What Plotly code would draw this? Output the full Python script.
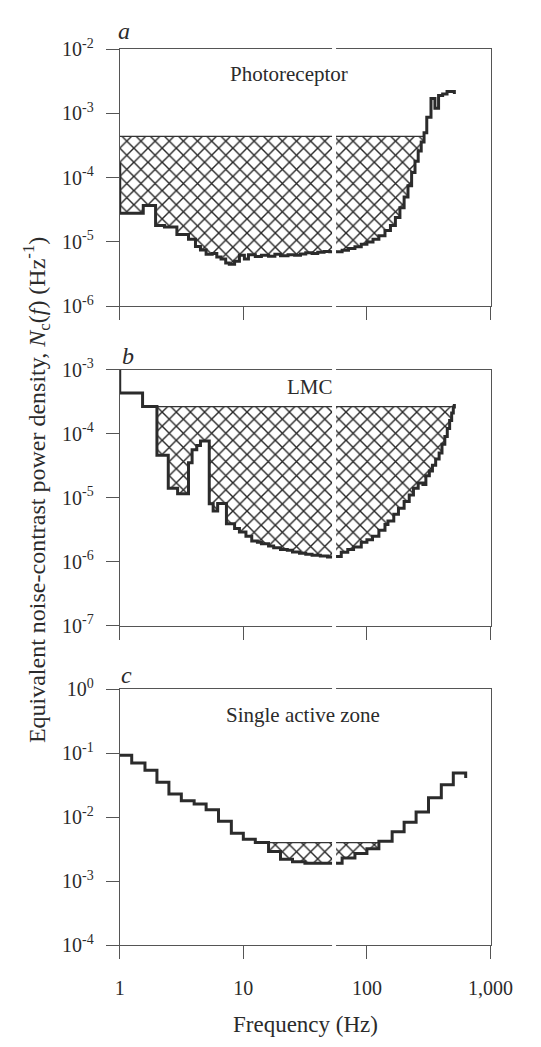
import plotly.graph_objects as go

W, H = 541, 1047

# ---------------- data ----------------
# panel a: photoreceptor, step curve (step starts) and values
A_FREQ = [1, 1, 1.55, 1.95, 2.3, 2.9, 3.6, 4.1, 4.5, 5.0, 5.6, 6.1, 6.6, 7.2, 7.7,
          8.5, 9.3, 10.2, 11, 12.5, 14, 16, 18, 20, 23, 26, 29, 32, 36, 40, 45,
          50, 56, 63, 71, 80, 90, 100, 112, 125, 140, 155, 170, 185, 200, 215,
          230, 245, 260, 275, 290, 305, 330, 355, 380, 410, 445, 480, 510]
A_VAL = [1.7e-4, 2.8e-5, 3.7e-5, 1.8e-5, 1.7e-5, 1.3e-5, 1.1e-5, 8.5e-6, 7.5e-6,
         6.4e-6, 6.6e-6, 5.8e-6, 5.4e-6, 4.7e-6, 4.5e-6, 5.0e-6, 6.2e-6, 5.4e-6,
         6.3e-6, 5.9e-6, 6.2e-6, 6.0e-6, 6.4e-6, 6.1e-6, 6.3e-6, 6.2e-6, 6.5e-6,
         6.8e-6, 6.6e-6, 6.9e-6, 7.1e-6, 7.0e-6, 7.0e-6, 7.4e-6, 7.9e-6, 8.4e-6,
         9.2e-6, 1.0e-5, 1.1e-5, 1.25e-5, 1.5e-5, 1.8e-5, 2.4e-5, 3.4e-5, 5.0e-5,
         7.5e-5, 1.2e-4, 1.8e-4, 2.6e-4, 3.6e-4, 5.0e-4, 8.7e-4, 1.7e-3, 1.2e-3,
         1.9e-3, 2.0e-3, 2.2e-3, 2.2e-3, 2.0e-3]
A_LEVEL = 4.4e-4
A_FILL = (1, 290)

# panel b: LMC
B_FREQ = [1, 1, 1.53, 2.0, 2.47, 2.94, 3.6, 3.85, 4.2, 4.5, 5.3, 5.7, 6.2, 7.3,
          8.5, 9.3, 10.5, 11.7, 13, 14, 16, 17.6, 20, 22.7, 25, 28.5, 32, 36,
          42, 48, 54, 62, 70, 78, 90, 100, 111, 125, 140, 148, 165, 180, 200,
          220, 238, 260, 284, 300, 320, 339, 360, 384, 405, 427, 447, 467, 485,
          500, 510]
B_VAL = [1.0e-3, 4.3e-4, 2.65e-4, 4.6e-5, 1.4e-5, 1.15e-5, 3.5e-5, 5.6e-5, 6.5e-5,
         7.7e-5, 8.0e-6, 6.2e-6, 8.1e-6, 3.9e-6, 3.3e-6, 2.9e-6, 2.5e-6, 2.1e-6,
         2.0e-6, 1.9e-6, 1.75e-6, 1.65e-6, 1.55e-6, 1.5e-6, 1.42e-6, 1.35e-6,
         1.3e-6, 1.26e-6, 1.22e-6, 1.18e-6, 1.2e-6, 1.4e-6, 1.55e-6, 1.7e-6,
         2.0e-6, 2.2e-6, 2.5e-6, 3.1e-6, 3.8e-6, 4.3e-6, 5.5e-6, 6.8e-6, 8.7e-6,
         1.1e-5, 1.4e-5, 1.7e-5, 1.6e-5, 2.2e-5, 2.6e-5, 3.2e-5, 4.0e-5, 5.0e-5,
         6.8e-5, 9.0e-5, 1.2e-4, 1.6e-4, 2.1e-4, 2.6e-4, 2.9e-4]
B_LEVEL = 2.65e-4
B_FILL = (1.53, 510)

# panel c: single active zone (1/3-octave bins)
C_FREQ = [1, 1.25, 1.6, 2, 2.5, 3.15, 4, 5, 6.3, 8, 10, 12.5, 16, 20, 25, 31.5,
          40, 50, 63, 80, 100, 125, 160, 200, 250, 315, 400, 500, 630]
C_VAL = [0.093, 0.070, 0.054, 0.035, 0.023, 0.018, 0.016, 0.013, 0.0086, 0.0056,
         0.0045, 0.0040, 0.0029, 0.0022, 0.0020, 0.0019, 0.0019, 0.0019, 0.0023,
         0.0027, 0.0032, 0.0042, 0.0059, 0.0083, 0.012, 0.020, 0.032, 0.049, 0.041]
C_LEVEL = 0.0040
C_FILL = (12.5, 125)

PANEL_LETTERS = ["a", "b", "c"]
PANEL_NAMES = ["Photoreceptor", "LMC", "Single active zone"]
Y_RANGES = [(-6, -2), (-7, -3), (-4, 0)]
X_TICKS = [1, 10, 100, 1000]
X_TICKTEXT = ["1", "10", "100", "1,000"]

# ---------------- layout helpers ----------------
def px(p):
    return p / W


def py(p):
    return 1 - p / H


def fill_polygon(freqs, vals, lo, hi, level):
    verts = []
    for i in range(len(freqs) - 1):
        a, b = freqs[i], freqs[i + 1]
        if b <= a:
            continue
        a2, b2 = max(a, lo), min(b, hi)
        if b2 <= a2:
            continue
        v = min(vals[i], level)
        verts.append((a2, v))
        verts.append((b2, v))
    xs = [lo, hi] + [p[0] for p in reversed(verts)]
    ys = [level, level] + [p[1] for p in reversed(verts)]
    return xs, ys


FONT = "Liberation Serif"
INK = "#2b2b2b"
FRAME = "#555555"

panels = [
    (A_FREQ, A_VAL, A_LEVEL, A_FILL),
    (B_FREQ, B_VAL, B_LEVEL, B_FILL),
    (C_FREQ, C_VAL, C_LEVEL, C_FILL),
]
Y_DOMAINS_PX = [(37, 300), (365, 627), (692, 954)]
X_DOMAIN = [px(121), px(512)]
NAME_POS = [(299, 62), (322, 383), (314, 718)]
LETTER_BASE = [(117, 28), (121, 360), (120, 687)]

fig = go.Figure()
layout = dict(
    width=W, height=H, margin=dict(l=0, r=0, t=0, b=0),
    paper_bgcolor="white", plot_bgcolor="white", showlegend=False,
    font=dict(family=FONT, color=INK, size=20),
)
annotations = []

for i, (freqs, vals, level, (lo, hi)) in enumerate(panels):
    n = "" if i == 0 else str(i + 1)
    xa, ya = "x" + n, "y" + n
    fx, fy = fill_polygon(freqs, vals, lo, hi, level)
    fig.add_trace(go.Scatter(
        x=fx, y=fy, xaxis=xa, yaxis=ya, mode="lines", fill="toself",
        line=dict(width=0, color="rgba(0,0,0,0)"), fillcolor="white",
        fillpattern=dict(shape="x", size=10, solidity=0.26, fgcolor="#262626",
                         bgcolor="white", fillmode="replace"),
        hoverinfo="skip"))
    fig.add_trace(go.Scatter(
        x=[lo, hi], y=[level, level], xaxis=xa, yaxis=ya, mode="lines",
        line=dict(width=1.2, color="#333333"), hoverinfo="skip"))
    fig.add_trace(go.Scatter(
        x=freqs, y=vals, xaxis=xa, yaxis=ya, mode="lines",
        line=dict(width=3, color=INK, shape="hv")))

    y0, y1 = Y_DOMAINS_PX[i]
    r0, r1 = Y_RANGES[i]
    yt = [10 ** k for k in range(r0, r1 + 1)]
    ytt = ["10<sup>%d</sup>" % k for k in range(r0, r1 + 1)]
    layout["xaxis" + n] = dict(
        type="log", range=[0, 3], domain=X_DOMAIN, anchor=ya,
        showline=True, linecolor=FRAME, linewidth=1, mirror=True,
        ticks="outside", ticklen=13, tickwidth=1, tickcolor=FRAME,
        tickvals=X_TICKS, ticktext=X_TICKTEXT, showticklabels=(i == 2),
        ticklabelstandoff=12,
        showgrid=False, zeroline=False,
        tickfont=dict(family=FONT, size=20, color=INK))
    layout["yaxis" + n] = dict(
        type="log", range=[r0, r1], domain=[py(y1), py(y0)], anchor=xa,
        showline=True, linecolor=FRAME, linewidth=1, mirror=True,
        ticks="outside", ticklen=13, tickwidth=1, tickcolor=FRAME,
        tickvals=yt, ticktext=ytt, showgrid=False, zeroline=False,
        ticklabelstandoff=8,
        tickfont=dict(family=FONT, size=20, color=INK))

    cx, cy = NAME_POS[i]
    annotations.append(dict(
        x=px(cx), y=py(cy), xref="paper", yref="paper", text=PANEL_NAMES[i],
        showarrow=False, xanchor="center", yanchor="middle",
        font=dict(family=FONT, size=21, color=INK)))
    lx, ly = LETTER_BASE[i]
    annotations.append(dict(
        x=px(lx), y=py(ly + 6), xref="paper", yref="paper",
        text="<i>%s</i>" % PANEL_LETTERS[i], showarrow=False,
        xanchor="left", yanchor="bottom",
        font=dict(family=FONT, size=24, color=INK)))

annotations.append(dict(
    x=px(33), y=py(488), xref="paper", yref="paper", textangle=-90,
    text="Equivalent noise-contrast power density, <i>N</i><sub>c</sub>(<i>f</i>) (Hz<sup>-1</sup>)",
    showarrow=False, xanchor="center", yanchor="middle",
    font=dict(family=FONT, size=24, color=INK)))
annotations.append(dict(
    x=px(317), y=py(1035), xref="paper", yref="paper", text="Frequency (Hz)",
    showarrow=False, xanchor="center", yanchor="middle",
    font=dict(family=FONT, size=23, color=INK)))

layout["annotations"] = annotations
# white scan gap running down through the panels
layout["shapes"] = [dict(type="line", xref="paper", yref="paper",
                         x0=px(347), x1=px(347), y0=py(962), y1=py(32),
                         line=dict(color="white", width=4), layer="above")]
fig.update_layout(**layout)
fig.write_html("out.html")
